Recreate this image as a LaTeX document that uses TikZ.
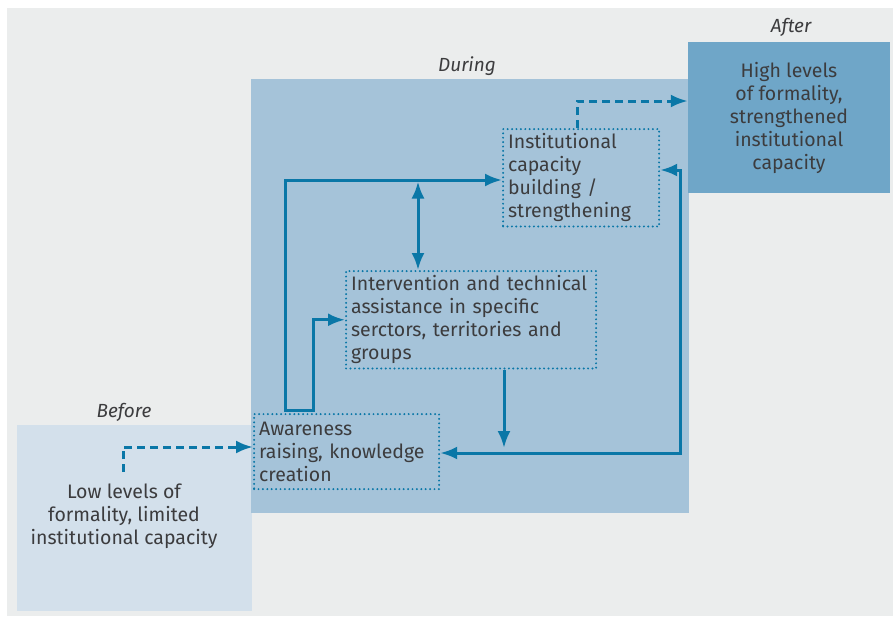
\documentclass[tikz,border=0pt]{standalone}
\usepackage{fontspec}
\setmainfont{Fira Sans}
\usepackage{tikz}
\usetikzlibrary{arrows.meta}
\usetikzlibrary{calc}

\definecolor{bggray}{RGB}{235,237,237}
\definecolor{beforeblue}{RGB}{211,224,235}
\definecolor{duringblue}{RGB}{165,195,217}
\definecolor{afterblue}{RGB}{111,166,200}
\definecolor{flowblue}{RGB}{10,119,167}
\definecolor{txtgray}{RGB}{60,60,62}

\begin{document}
\begin{tikzpicture}[x=1pt,y=-1pt,
	every node/.style={text=txtgray,font=\fontsize{19.5}{23}\selectfont},
	phase/.style={draw=none,inner sep=0pt,align=center},
	stage/.style={font=\fontsize{19}{23}\selectfont\itshape},
	stepbox/.style={draw=flowblue,line width=2.2pt,dash pattern=on 0pt off 4.4pt,line cap=round,
		inner xsep=5pt,inner ysep=4.5pt,align=left,anchor=north west},
	flow/.style={draw=flowblue,line width=3pt,>={Latex[length=17pt,width=13pt]}},
	dashflow/.style={flow,dash pattern=on 8pt off 5pt}]
\useasboundingbox (0,0) rectangle (893,616);
\fill[bggray] (7,8) rectangle (893,616);

\node[phase,fill=beforeblue,minimum width=235pt,minimum height=186pt] (before) at (134.5,518) {};
\node[phase] (beforetext) at (124,516) {Low levels of\\formality, limited\\institutional capacity};
\node[phase,fill=duringblue,minimum width=438pt,minimum height=434pt] (during) at (470,296) {};
\node[phase,fill=afterblue,minimum width=202pt,minimum height=151pt] (after) at (789,117.5)
	{High levels\\of formality,\\strengthened\\institutional\\capacity};

\node[stage] (beforelabel) at (124,412) {Before};
\node[stage] (duringlabel) at (467,66) {During};
\node[stage] (afterlabel) at (791,27) {After};

\node[stepbox,text width=175pt,minimum height=75pt] (awareness) at (253,413)
	{Awareness\\raising, knowledge\\creation};
\node[stepbox,text width=240pt,minimum height=97pt] (intervention) at (345,270)
	{Intervention and technical\\assistance in specific\\serctors, territories and\\groups};
\node[stepbox,text width=146pt,minimum height=95pt] (institutional) at (502,128)
	{Institutional\\capacity\\building /\\strengthening};

\coordinate (lowstart) at (123,472);
\coordinate (lowbend) at (123,447);
\coordinate (upbend) at (577,101);
\coordinate (leftcorner) at (285,180);
\coordinate (leftstep) at (313,410);
\coordinate (midtop) at (418,180);
\coordinate (downend) at (504,448);
\coordinate (rightbottom) at (680,453);
\coordinate (righttop) at (680,170);

\draw[dashflow,->] (lowstart) -- (lowbend) -- (lowbend -| awareness.west);
\draw[dashflow,->] (upbend |- institutional.north) -- (upbend) -- (upbend -| after.west);
\draw[flow,<->] (leftcorner -| institutional.west) -- (leftcorner) |- (leftstep) |- (intervention.west);
\draw[flow,<->,shorten <=1.5pt] (midtop) -- (midtop |- intervention.north);
\draw[flow,->] (downend |- intervention.south) -- (downend);
\draw[flow,<->] (rightbottom -| awareness.east) -- (rightbottom) -- (righttop) -- (righttop -| institutional.east);
\end{tikzpicture}
\end{document}
